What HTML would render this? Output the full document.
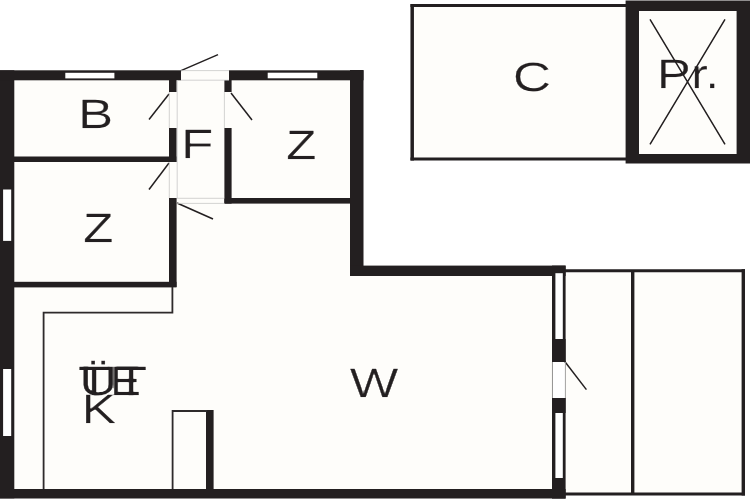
<!DOCTYPE html>
<html lang="de">
<head>
<meta charset="utf-8">
<title>Grundriss</title>
<style>
html,body{margin:0;padding:0;background:#fff;}
body{width:750px;height:500px;overflow:hidden;}
svg{display:block;}
text{font-family:"Liberation Sans",Arial,sans-serif;font-size:41px;fill:#231f20;stroke:#231f20;stroke-width:0.3px;text-rendering:geometricPrecision;}
</style>
</head>
<body>
<svg width="750" height="500" viewBox="0 0 750 500">
<rect width="750" height="500" fill="#ffffff"/>
<!-- interior fills -->
<g fill="#fefdfa">
<rect x="0" y="70" width="363" height="210"/>
<rect x="0" y="266" width="566" height="232"/>
<rect x="566" y="270" width="178" height="225"/>
<rect x="411" y="4" width="216" height="156"/>
<rect x="626" y="1" width="124" height="162"/>
</g>
<!-- walls -->
<g fill="#231f20">
<!-- outer -->
<rect x="0" y="70.3" width="14.3" height="428"/>
<rect x="0" y="70.3" width="181" height="10"/>
<rect x="229" y="70.3" width="134.5" height="10"/>
<rect x="350" y="70" width="13.5" height="206"/>
<rect x="350" y="265.6" width="215.6" height="10.4"/>
<rect x="552" y="265.6" width="13.6" height="233"/>
<rect x="0" y="489" width="565.6" height="9.5"/>
<!-- inner -->
<rect x="14" y="156.5" width="162.5" height="5.5"/>
<rect x="14" y="281.8" width="162.5" height="5.6"/>
<rect x="169" y="80" width="7.6" height="12"/>
<rect x="169" y="128" width="7.6" height="34"/>
<rect x="169" y="198" width="7.6" height="89"/>
<rect x="224.4" y="80" width="7.2" height="12"/>
<rect x="224.4" y="128" width="7.2" height="75.6"/>
<rect x="224.4" y="198" width="126" height="5.6"/>
<rect x="206" y="410" width="7.6" height="80"/>
<!-- Pr box -->
<path fill-rule="evenodd" d="M625.6 0.6H750V163.6H625.6Z M639 11H736.6V154H639Z"/>
</g>
<!-- windows (white) -->
<g fill="#ffffff">
<rect x="65.3" y="72.8" width="49.1" height="5.6"/>
<rect x="267.7" y="72.7" width="49.6" height="5.6"/>
<rect x="3.1" y="189.5" width="8.1" height="51.4"/>
<rect x="3.1" y="369" width="8.1" height="67"/>
<rect x="555.4" y="273.2" width="7.4" height="65.8"/>
<rect x="555.4" y="413" width="7.4" height="65"/>
<!-- door openings -->
<rect x="553" y="362" width="12" height="36"/>
</g>
<rect x="552" y="339" width="13.6" height="23" fill="#231f20"/>
<rect x="552" y="398" width="13.6" height="15" fill="#231f20"/>
<!-- thin lines -->
<g stroke="#231f20" fill="none">
<!-- C box -->
<path d="M626 5.6H410.5M626 159H410.5" stroke-width="3"/><path d="M412.2 4.1V160.5" stroke-width="3.5"/>
<!-- terrace -->
<path d="M565 270.7H745M565 494H745" stroke-width="3"/><path d="M743.3 269.2V495.5" stroke-width="3.4"/>
<path d="M632.7 270V494" stroke-width="3.4"/>
<!-- counters -->
<path d="M43.6 489V312.6H172.4V287" stroke-width="1.8" stroke="#2e2a2b"/>
<path d="M172.6 489V411H207" stroke-width="1.8" stroke="#2e2a2b"/>
<!-- door leaves -->
<g stroke-width="1.5">
<path d="M181 70.6L218 54.6"/>
<path d="M169 94L149 119.5"/>
<path d="M231 93L252 120"/>
<path d="M169 163L149 189.5"/>
<path d="M177 203L213 219"/>
<path d="M564.4 361L586.4 389.6"/>
<path d="M650 19.4L725 144.4M725 19.4L650 144.4"/>
</g>
<!-- door opening outlines -->
<g stroke="#c8c8c6" stroke-width="0.8">
<path d="M181 70.6H229M181 80.2H229"/>
<path d="M169.3 92V128M177.2 80V198M224.4 92V128"/>
<path d="M169.3 162V198"/>
<path d="M177 198.3H224.4M177 203.4H224.4"/>
<path d="M552.4 362V398M565.3 362V398"/>
</g>
</g>
<!-- labels -->
<defs><filter id="thin" x="-5%" y="-5%" width="110%" height="110%" color-interpolation-filters="sRGB"><feOffset in="SourceGraphic" dx="1.2" dy="0" result="o"/><feComposite in="SourceGraphic" in2="o" operator="in"/></filter></defs>
<g filter="url(#thin)">
<text transform="translate(77.4,127.6) scale(1.294,1)">B</text>
<text transform="translate(180.4,158.4) scale(1.299,1)">F</text>
<text transform="translate(285.4,159.3) scale(1.215,1)">Z</text>
<text transform="translate(82.5,242) scale(1.215,1)">Z</text>
<text transform="translate(512.2,91.4) scale(1.299,1)">C</text>
<text transform="translate(656.2,88) scale(1.250,1)">Pr.</text>
<text transform="translate(349.3,397) scale(1.255,1)">W</text>
<text transform="translate(80.9,423) scale(1.259,1)">K</text>
<text transform="translate(77.4,395) scale(1.284,1)">T</text>
<text transform="translate(78.8,395) scale(1.284,1)">Ü</text>
<text transform="translate(109.6,395) scale(1.136,1)">E</text>
<text transform="translate(114.6,395) scale(1.284,1)">T</text>
</g>
</svg>
</body>
</html>
